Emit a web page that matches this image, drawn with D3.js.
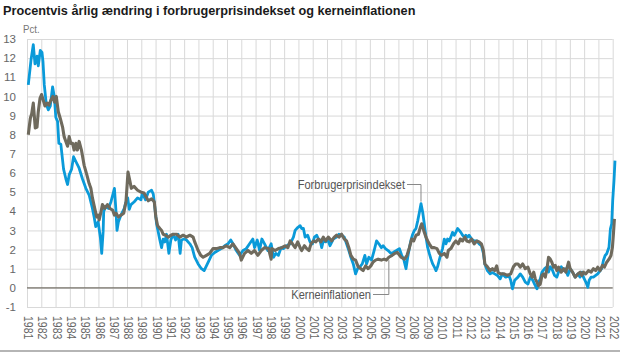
<!DOCTYPE html>
<html>
<head>
<meta charset="utf-8">
<script src="https://cdn.jsdelivr.net/npm/d3@7"></script>
<style>
  body { margin: 0; background: #fff; }
  svg { display: block; font-family: "Liberation Sans", Arial, sans-serif; }
</style>
</head>
<body>
<div id="chart"></div>
<script>
// ---- data (decimal years) ----
var cpiYears = [1981.09,1981.28,1981.44,1981.56,1981.70,1981.79,1981.93,1982.05,1982.12,1982.21,1982.35,1982.49,1982.63,1982.79,1982.91,1983.02,1983.14,1983.23,1983.37,1983.56,1983.72,1983.84,1983.95,1984.12,1984.26,1984.42,1984.65,1984.88,1985.12,1985.35,1985.58,1985.70,1985.81,1985.98,1986.14,1986.23,1986.33,1986.37,1986.53,1986.70,1986.88,1987.00,1987.12,1987.23,1987.30,1987.40,1987.58,1987.81,1987.93,1988.05,1988.16,1988.28,1988.51,1988.74,1988.98,1989.07,1989.30,1989.49,1989.72,1989.84,1989.95,1990.07,1990.19,1990.30,1990.42,1990.53,1990.65,1990.77,1990.93,1991.07,1991.23,1991.40,1991.58,1991.72,1991.81,1992.00,1992.16,1992.40,1992.56,1992.74,1992.98,1993.21,1993.40,1993.56,1993.72,1993.91,1994.14,1994.37,1994.60,1994.84,1995.07,1995.26,1995.42,1995.65,1995.88,1996.12,1996.35,1996.58,1996.81,1996.93,1997.12,1997.28,1997.44,1997.63,1997.86,1998.09,1998.26,1998.42,1998.60,1998.79,1998.95,1999.19,1999.42,1999.65,1999.77,1999.95,2000.12,2000.23,2000.35,2000.47,2000.65,2000.81,2000.98,2001.12,2001.28,2001.40,2001.51,2001.63,2001.74,2001.91,2002.05,2002.21,2002.44,2002.67,2002.84,2003.02,2003.21,2003.37,2003.53,2003.67,2003.84,2004.00,2004.14,2004.30,2004.47,2004.65,2004.77,2004.93,2005.12,2005.30,2005.47,2005.63,2005.81,2005.93,2006.09,2006.28,2006.47,2006.63,2006.86,2007.07,2007.23,2007.37,2007.53,2007.65,2007.77,2007.88,2008.00,2008.12,2008.23,2008.35,2008.47,2008.58,2008.70,2008.81,2008.93,2009.05,2009.16,2009.28,2009.40,2009.51,2009.63,2009.74,2009.86,2009.98,2010.09,2010.21,2010.33,2010.44,2010.56,2010.67,2010.79,2010.91,2011.02,2011.14,2011.26,2011.37,2011.49,2011.60,2011.72,2011.84,2011.95,2012.12,2012.30,2012.49,2012.65,2012.81,2012.95,2013.05,2013.23,2013.42,2013.58,2013.74,2013.93,2014.12,2014.28,2014.51,2014.74,2014.86,2014.98,2015.14,2015.37,2015.53,2015.70,2015.88,2016.07,2016.23,2016.40,2016.53,2016.70,2016.81,2016.93,2017.05,2017.23,2017.40,2017.51,2017.63,2017.74,2017.93,2018.09,2018.21,2018.40,2018.56,2018.67,2018.86,2019.02,2019.19,2019.37,2019.56,2019.72,2019.84,2019.95,2020.12,2020.26,2020.35,2020.49,2020.65,2020.81,2020.95,2021.12,2021.23,2021.35,2021.47,2021.58,2021.74,2021.84,2021.93,2022.00,2022.09,2022.16];
var cpiValues = [10.6,11.9,12.7,11.7,12.1,11.6,12.4,12.3,11.8,10.6,9.6,9.3,9.5,10.5,10.0,8.9,8.7,7.55,7.5,6.2,5.7,5.4,5.9,6.2,6.85,6.6,6.25,5.7,5.2,4.85,4.15,3.7,3.2,3.45,2.6,1.8,2.95,4.0,4.25,4.15,4.5,4.85,5.2,4.0,3.0,3.45,3.8,4.15,4.5,4.7,4.1,4.35,4.5,4.7,4.6,4.95,4.6,5.0,5.1,4.9,4.2,3.35,2.9,2.5,2.1,2.55,2.4,2.8,1.8,2.5,2.8,2.5,2.8,1.8,2.5,2.55,2.5,2.3,2.1,1.6,1.25,1.0,0.9,1.15,1.4,1.7,1.85,1.95,2.05,2.2,2.3,2.5,2.3,1.95,1.7,1.95,2.05,2.3,2.55,2.1,2.5,1.95,2.55,2.3,1.95,2.3,1.6,1.8,1.7,2.1,2.05,2.2,2.3,2.65,3.0,3.15,3.25,3.1,3.1,2.65,2.75,2.4,2.3,2.65,2.75,2.55,2.5,2.1,2.45,2.4,2.55,2.2,2.55,2.65,2.8,2.75,2.65,2.3,1.95,1.6,1.25,0.73,1.0,1.1,1.25,1.7,1.25,1.6,1.45,1.95,2.45,2.3,2.1,2.2,2.05,1.95,1.8,1.85,1.95,2.05,1.7,1.5,1.0,1.6,2.1,2.5,2.8,3.0,3.1,3.5,3.95,4.4,3.95,3.35,2.65,2.1,1.8,1.5,1.25,1.1,0.9,1.1,1.45,1.8,2.05,2.55,2.3,2.55,2.45,2.65,2.9,2.75,2.9,3.1,3.0,2.9,2.75,2.65,2.75,2.65,2.75,2.55,2.45,2.45,2.3,2.2,1.8,1.25,0.9,0.73,0.8,0.73,0.65,0.47,0.73,0.56,0.65,0.4,-0.05,0.4,0.56,0.73,0.56,0.3,0.2,0.56,0.4,0.2,-0.05,0.3,0.47,0.82,1.0,1.1,0.82,1.1,1.0,0.65,0.56,0.82,1.1,0.9,1.0,0.65,1.0,0.82,0.56,0.73,0.56,0.82,0.56,0.3,0.03,0.4,0.56,0.56,0.65,0.73,0.9,1.0,1.43,1.69,1.78,2.12,3.08,3.34,4.56,5.6,6.65];

var coreYears = [1981.09,1981.23,1981.33,1981.44,1981.58,1981.70,1981.79,1981.91,1982.02,1982.14,1982.26,1982.40,1982.53,1982.67,1982.81,1982.93,1983.05,1983.19,1983.33,1983.49,1983.60,1983.72,1983.84,1983.95,1984.07,1984.19,1984.30,1984.42,1984.53,1984.65,1984.81,1985.00,1985.19,1985.35,1985.47,1985.58,1985.74,1985.88,1985.98,1986.05,1986.16,1986.28,1986.44,1986.63,1986.81,1987.00,1987.12,1987.23,1987.40,1987.58,1987.77,1987.93,1988.07,1988.21,1988.30,1988.49,1988.74,1988.98,1989.19,1989.49,1989.72,1989.91,1990.02,1990.14,1990.30,1990.42,1990.53,1990.70,1990.88,1991.07,1991.23,1991.47,1991.70,1991.93,1992.16,1992.40,1992.63,1992.74,1992.98,1993.16,1993.33,1993.56,1993.79,1994.02,1994.26,1994.49,1994.72,1994.95,1995.19,1995.42,1995.65,1995.88,1996.00,1996.23,1996.47,1996.70,1996.93,1997.16,1997.40,1997.63,1997.91,1998.09,1998.14,1998.37,1998.60,1998.84,1999.07,1999.26,1999.42,1999.58,1999.77,1999.95,2000.12,2000.23,2000.42,2000.58,2000.74,2000.88,2001.05,2001.21,2001.40,2001.58,2001.74,2001.91,2002.09,2002.33,2002.51,2002.67,2002.84,2003.02,2003.21,2003.37,2003.53,2003.67,2003.84,2004.00,2004.19,2004.37,2004.53,2004.70,2004.88,2005.07,2005.23,2005.40,2005.58,2005.81,2006.00,2006.16,2006.33,2006.56,2006.74,2006.93,2007.19,2007.42,2007.60,2007.77,2007.93,2008.07,2008.23,2008.40,2008.53,2008.63,2008.77,2008.93,2009.05,2009.16,2009.33,2009.51,2009.70,2009.86,2010.02,2010.21,2010.40,2010.49,2010.67,2010.86,2011.02,2011.19,2011.33,2011.49,2011.65,2011.79,2011.95,2012.12,2012.30,2012.49,2012.65,2012.81,2012.95,2013.05,2013.23,2013.42,2013.58,2013.74,2013.88,2013.98,2014.16,2014.40,2014.63,2014.86,2015.05,2015.21,2015.37,2015.53,2015.70,2015.88,2016.07,2016.23,2016.35,2016.47,2016.58,2016.70,2016.81,2016.93,2017.05,2017.16,2017.28,2017.40,2017.51,2017.63,2017.74,2017.86,2017.98,2018.09,2018.21,2018.40,2018.56,2018.72,2018.91,2019.02,2019.19,2019.37,2019.56,2019.72,2019.84,2019.95,2020.12,2020.30,2020.49,2020.65,2020.81,2020.95,2021.12,2021.28,2021.42,2021.58,2021.74,2021.88,2021.98,2022.05,2022.12];
var coreValues = [8.0,8.85,9.1,9.65,8.35,8.4,9.2,9.9,10.1,9.8,9.5,9.65,9.55,9.8,10.0,9.7,10.0,9.2,8.85,8.4,7.9,7.65,7.4,7.9,7.55,7.55,7.2,7.55,7.2,7.65,7.2,6.4,5.9,5.45,5.2,4.7,4.15,3.7,3.8,3.55,3.9,4.35,4.15,4.35,4.15,4.05,3.8,3.9,3.7,3.8,3.9,4.5,6.05,5.55,5.2,5.3,5.1,5.0,4.95,4.55,4.65,4.5,3.7,3.25,3.1,3.0,2.8,2.75,2.65,2.75,2.8,2.8,2.65,2.75,2.65,2.75,2.65,2.4,1.95,1.7,1.6,1.7,1.8,2.05,2.05,2.1,2.1,2.2,2.1,2.3,2.05,1.8,1.45,1.8,1.95,1.8,1.95,1.7,1.95,2.1,2.05,1.5,2.05,1.95,2.05,2.1,2.2,2.1,2.45,2.3,2.1,2.4,2.1,1.95,2.2,2.05,1.95,2.3,2.45,2.4,2.55,2.4,2.65,2.45,2.65,2.45,2.65,2.75,2.65,2.8,2.55,2.45,2.1,1.7,1.5,1.45,1.1,1.0,0.9,1.15,1.0,1.15,1.35,1.45,1.5,1.45,1.5,1.45,1.6,1.7,1.8,1.85,1.6,1.5,1.7,2.1,2.55,2.45,2.75,2.8,3.15,3.35,3.0,2.65,2.45,2.3,2.1,2.1,2.05,1.8,1.7,1.8,1.6,1.95,2.05,2.3,2.45,2.3,2.55,2.45,2.65,2.45,2.4,2.55,2.3,2.45,2.4,2.3,1.95,1.25,1.1,0.9,1.0,0.9,1.15,0.8,0.73,0.73,0.65,0.73,1.1,1.25,1.25,1.08,1.25,1.0,1.08,0.73,0.56,0.82,0.47,0.3,0.12,0.2,0.65,0.73,0.56,1.0,1.6,1.5,1.34,1.08,1.17,0.9,1.08,0.82,1.0,0.82,1.34,1.0,0.82,0.56,0.73,0.82,0.65,0.82,0.73,0.9,0.82,1.0,0.9,1.08,0.9,1.17,1.08,1.34,1.5,1.69,2.12,2.82,3.6];

var yTicks = [-1,0,1,2,3,4,5,6,7,8,9,10,11,12,13];
var yearTicks = d3.range(1981, 2023);

var titleText = "Procentvis årlig ændring i forbrugerprisindekset og kerneinflationen";
var cpiLabel = "Forbrugerprisindekset", coreLabel = "Kerneinflationen";
var cpiPointer = [2008.58, 4.4], corePointer = [2006.33, 1.55];

// ---- layout ----
var W = 620, H = 353;
var plotL = 27, plotR = 612.7, plotT = 39, plotB = 307;
var squeeze = 0.84; // the original uses a condensed face

var svg = d3.select("#chart").append("svg")
    .attr("width", W)
    .attr("height", H);

var x = d3.scaleLinear().domain([1981, 2022]).range([plotL, plotR]);
var y = d3.scaleLinear().domain([-1, 13]).range([plotB, plotT]);

// title
svg.append("text")
    .attr("x", 3)
    .attr("y", 15)
    .attr("font-size", 12.7)
    .attr("font-weight", "bold")
    .attr("fill", "#1a1a1a")
    .text(titleText);

// unit
svg.append("text")
    .attr("transform", "translate(23,33) scale(" + squeeze + ",1)")
    .attr("font-size", 11.5)
    .attr("fill", "#777")
    .text("Pct.");

// y axis + horizontal grid
var yAxisGroup = svg.append("g")
    .attr("class", "y axis")
    .attr("transform", "translate(" + plotL + ",0)")
    .call(d3.axisLeft(y)
        .tickValues(yTicks)
        .tickSize(-(plotR - plotL))
        .tickPadding(11)
        .tickFormat(function(d){ return String(d); }));
yAxisGroup.select(".domain").remove();
yAxisGroup.selectAll("line").attr("stroke", "#d9d9d9");
yAxisGroup.selectAll("text")
    .attr("font-size", 11.5)
    .attr("fill", "#666");

// x axis + vertical grid
var xAxisGroup = svg.append("g")
    .attr("class", "x axis")
    .attr("transform", "translate(0," + plotB + ")")
    .call(d3.axisBottom(x)
        .tickValues(yearTicks)
        .tickSize(-(plotB - plotT))
        .tickFormat(function(d){ return String(d); }));
xAxisGroup.select(".domain").remove();
xAxisGroup.selectAll("line").attr("stroke", "#d9d9d9");
xAxisGroup.selectAll("text")
    .attr("transform", "translate(1,9) rotate(90) scale(" + squeeze + ",1)")
    .attr("x", 0)
    .attr("y", 0)
    .attr("dy", "0.35em")
    .attr("text-anchor", "start")
    .attr("font-size", 12.5)
    .attr("fill", "#666");

// zero line
svg.append("line")
    .attr("x1", plotL)
    .attr("x2", plotR)
    .attr("y1", y(0))
    .attr("y2", y(0))
    .attr("stroke", "#77736a")
    .attr("stroke-width", 1.2);

// lines
var cpiData = cpiYears.map(function(d, i){ return [d, cpiValues[i]]; });
var coreData = coreYears.map(function(d, i){ return [d, coreValues[i]]; });

var line = d3.line()
    .x(function(d){ return x(d[0]); })
    .y(function(d){ return y(d[1]); });

svg.append("path")
    .datum(cpiData)
    .attr("d", line)
    .attr("fill", "none")
    .attr("stroke", "#0a9ad9")
    .attr("stroke-width", 2.8)
    .attr("stroke-linejoin", "round");

svg.append("path")
    .datum(coreData)
    .attr("d", line)
    .attr("fill", "none")
    .attr("stroke", "#6f6a5d")
    .attr("stroke-width", 3.1)
    .attr("stroke-linejoin", "round");

// annotations
svg.append("text")
    .attr("transform", "translate(405,188.5) scale(0.92,1)")
    .attr("text-anchor", "end")
    .attr("font-size", 12)
    .attr("fill", "#555")
    .text(cpiLabel);
svg.append("path")
    .attr("d", "M407,184.5H" + x(cpiPointer[0]) + "V" + (y(cpiPointer[1]) - 2))
    .attr("fill", "none")
    .attr("stroke", "#888")
    .attr("stroke-width", 1);

svg.append("text")
    .attr("transform", "translate(371,298.5) scale(0.92,1)")
    .attr("text-anchor", "end")
    .attr("font-size", 12)
    .attr("fill", "#555")
    .text(coreLabel);
svg.append("path")
    .attr("d", "M373,294.5H" + x(corePointer[0]) + "V" + (y(corePointer[1]) + 2))
    .attr("fill", "none")
    .attr("stroke", "#888")
    .attr("stroke-width", 1);

// bottom rule
svg.append("line")
    .attr("x1", 0)
    .attr("x2", W)
    .attr("y1", 351)
    .attr("y2", 351)
    .attr("stroke", "#b5b5b5")
    .attr("stroke-width", 2);
</script>
</body>
</html>
